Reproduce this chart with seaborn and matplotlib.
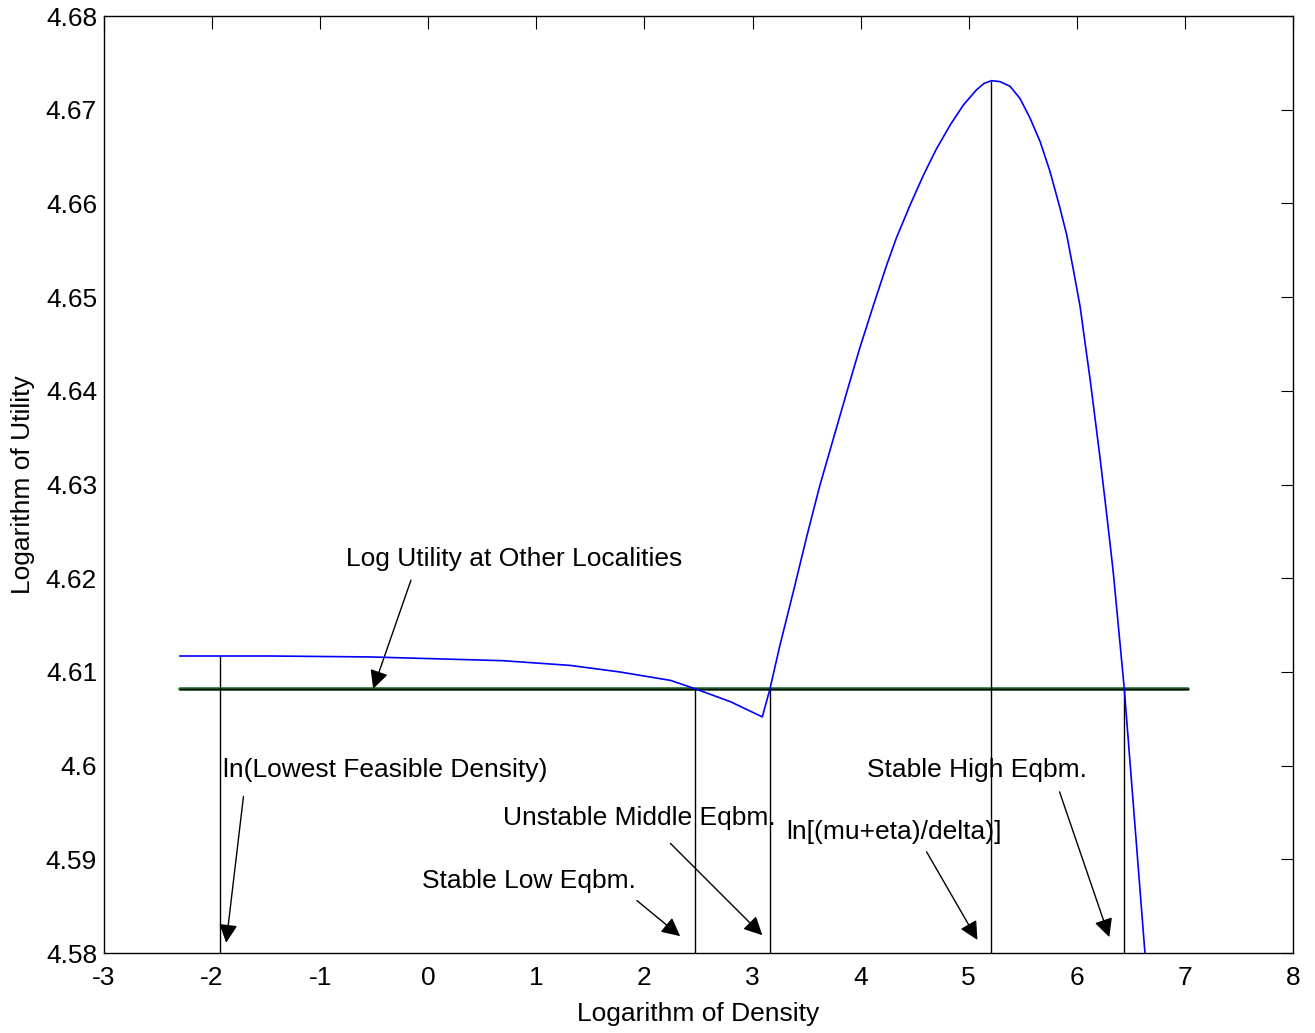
import seaborn as sns
import matplotlib.pyplot as plt
import pandas as pd

# log density / log utility
low_x = [-2.30, -1.93, -1.46, -0.54, 0.08, 0.69, 1.31, 1.77, 2.24, 2.47, 2.80, 3.09]
low_y = [4.6117, 4.6117, 4.6117, 4.6116, 4.6114, 4.6112, 4.6107, 4.6100, 4.6091, 4.6082, 4.6068, 4.6052]
high_x = [3.09, 3.161, 3.25, 3.38, 3.50, 3.62, 3.75, 3.87, 3.99, 4.12, 4.24, 4.33, 4.46, 4.58,
          4.70, 4.83, 4.95, 5.07, 5.14, 5.21, 5.289, 5.382, 5.474, 5.567, 5.660, 5.752, 5.844,
          5.907, 5.968, 6.030, 6.076, 6.123, 6.169, 6.215, 6.261, 6.307, 6.338, 6.439, 6.461,
          6.63, 6.66]
high_y = [4.6052, 4.6082, 4.6127, 4.6187, 4.6244, 4.6298, 4.6350, 4.6398, 4.6445, 4.6492,
          4.6534, 4.6563, 4.6599, 4.6630, 4.6658, 4.6684, 4.6705, 4.6721, 4.6728, 4.6731,
          4.6730, 4.6725, 4.6712, 4.6691, 4.6666, 4.6634, 4.6595, 4.6566, 4.6529, 4.6490,
          4.6451, 4.6412, 4.6370, 4.6328, 4.6283, 4.6237, 4.6205, 4.6082, 4.6049, 4.5800,
          4.5770]

other_utility = 4.6082
other_x = [-2.30, 7.03]

# vertical markers: x position and height they reach
marker_x = [-1.93, 2.47, 3.161, 5.21, 6.439]
marker_top = [4.6117, 4.6082, 4.6082, 4.6731, 4.6082]

# labels: text, text pos, arrow tail, arrow head
labels = [
    ('Log Utility at Other Localities', (-0.76, 4.6220), (-0.16, 4.6198), (-0.51, 4.6082)),
    ('ln(Lowest Feasible Density)', (-1.90, 4.5995), (-1.71, 4.5967), (-1.87, 4.5811)),
    ('Unstable Middle Eqbm.', (0.69, 4.5944), (2.24, 4.5917), (3.09, 4.5819)),
    ('Stable Low Eqbm.', (-0.06, 4.5877), (1.93, 4.5856), (2.33, 4.5818)),
    ('ln[(mu+eta)/delta)]', (3.31, 4.5929), (4.61, 4.5908), (5.08, 4.5814)),
    ('Stable High Eqbm.', (4.06, 4.5995), (5.84, 4.5972), (6.30, 4.5817)),
]

x_ticks = list(range(-3, 9))
y_ticks = [4.58, 4.59, 4.60, 4.61, 4.62, 4.63, 4.64, 4.65, 4.66, 4.67, 4.68]
y_ticklabels = ['4.58', '4.59', '4.6', '4.61', '4.62', '4.63', '4.64', '4.65', '4.66', '4.67', '4.68']

sns.set_theme(style='white')
plt.rcParams['font.family'] = ['Liberation Sans', 'DejaVu Sans']
plt.rcParams['text.color'] = 'black'
plt.rcParams['axes.labelcolor'] = 'black'

curve = pd.DataFrame({'x': low_x + high_x, 'y': low_y + high_y})

fig = plt.figure(figsize=(13.15, 10.33), dpi=100)
ax = fig.add_axes([0.0791, 0.0774, 0.9042, 0.9071])

ax.plot(other_x, [other_utility] * 2, color='#1f6b2a', lw=2.6, zorder=2)
ax.plot(other_x, [other_utility] * 2, color='black', lw=1.0, zorder=3)
sns.lineplot(data=curve, x='x', y='y', sort=False, estimator=None, color='#0000ff', lw=1.2, ax=ax, zorder=4)
ax.vlines(marker_x, 4.58, marker_top, color='black', lw=1.0, zorder=3)

for txt, tpos, tail, head in labels:
    ax.text(tpos[0], tpos[1], txt, fontsize=19, color='black', ha='left', va='center', zorder=5)
    ax.annotate('', xy=head, xytext=tail,
                arrowprops=dict(arrowstyle='-|>', color='black', lw=1.0,
                                mutation_scale=28, shrinkA=0, shrinkB=0))

ax.set_xlim(-3, 8)
ax.set_ylim(4.58, 4.68)
ax.set_xticks(x_ticks)
ax.set_xticklabels([str(t) for t in x_ticks])
ax.set_yticks(y_ticks)
ax.set_yticklabels(y_ticklabels)
ax.tick_params(direction='in', length=9, width=0.8, top=True, right=True,
               labelsize=19, colors='black')
ax.tick_params(axis='x', pad=9)
ax.tick_params(axis='y', pad=5)
for s in ax.spines.values():
    s.set_color('black')
    s.set_linewidth(1.0)

ax.set_xlabel('Logarithm of Density', fontsize=19, labelpad=9)
ax.set_ylabel('Logarithm of Utility', fontsize=19, labelpad=8)

fig.savefig('out.png', dpi=100)
